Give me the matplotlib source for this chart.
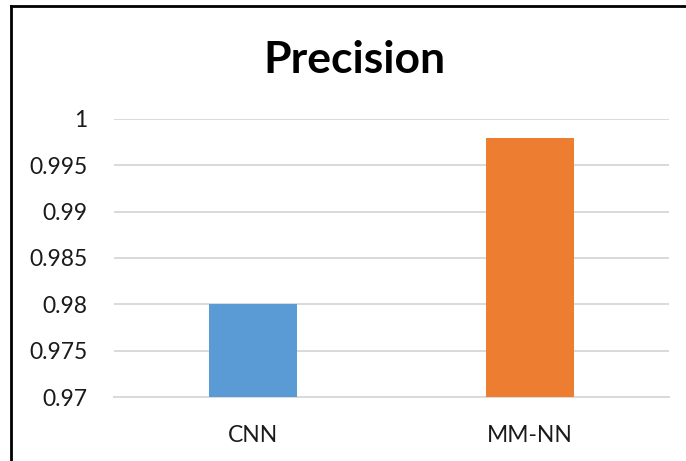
import matplotlib as mpl
mpl.use('Agg')
import matplotlib.pyplot as plt
from matplotlib.lines import Line2D

categories = ["CNN", "MM-NN"]
precision = [0.980, 0.998]
colors = ["#5B9BD5", "#ED7D31"]
yticks = [0.97, 0.975, 0.98, 0.985, 0.99, 0.995, 1.0]
ylabels = ["0.97", "0.975", "0.98", "0.985", "0.99", "0.995", "1"]

plt.rcParams['font.family'] = ['Lato', 'DejaVu Sans']

fig = plt.figure(figsize=(6.86, 4.61), dpi=100)
ax = fig.add_axes([0.1662, 0.1388, 0.975 - 0.1662, 0.7419 - 0.1388])

x = range(len(categories))
ax.bar(x, [p - 0.97 for p in precision], bottom=0.97, width=0.317,
       color=colors, zorder=3)

ax.set_xlim(-0.5, 1.5)
ax.set_ylim(0.97, 1.0)
ax.set_yticks(yticks)
ax.set_yticklabels(ylabels)
ax.set_xticks(list(x))
ax.set_xticklabels(categories)
ax.tick_params(axis='y', length=0, pad=19, labelsize=16.5, labelcolor='#1a1a1a')
ax.tick_params(axis='x', length=0, pad=20, labelsize=16.5, labelcolor='#1a1a1a')
ax.grid(axis='y', color='#D9D9D9', linewidth=1.4, zorder=0)
ax.set_axisbelow(True)
for s in ['top', 'right', 'left']:
    ax.spines[s].set_visible(False)
ax.spines['bottom'].set_color('#D9D9D9')
ax.spines['bottom'].set_linewidth(1.4)

fig.text(0.517, 0.870, "Precision", ha='center', va='center',
         fontsize=32, fontweight='bold')

# chart frame (only left and top edges visible)
fig.add_artist(Line2D([10.5 / 686, 10.5 / 686], [0, 1 - 6 / 461],
                      transform=fig.transFigure, color='black', lw=2))
fig.add_artist(Line2D([10.5 / 686, 1], [1 - 6 / 461, 1 - 6 / 461],
                      transform=fig.transFigure, color='black', lw=2))

plt.savefig('out.png', dpi=100)
